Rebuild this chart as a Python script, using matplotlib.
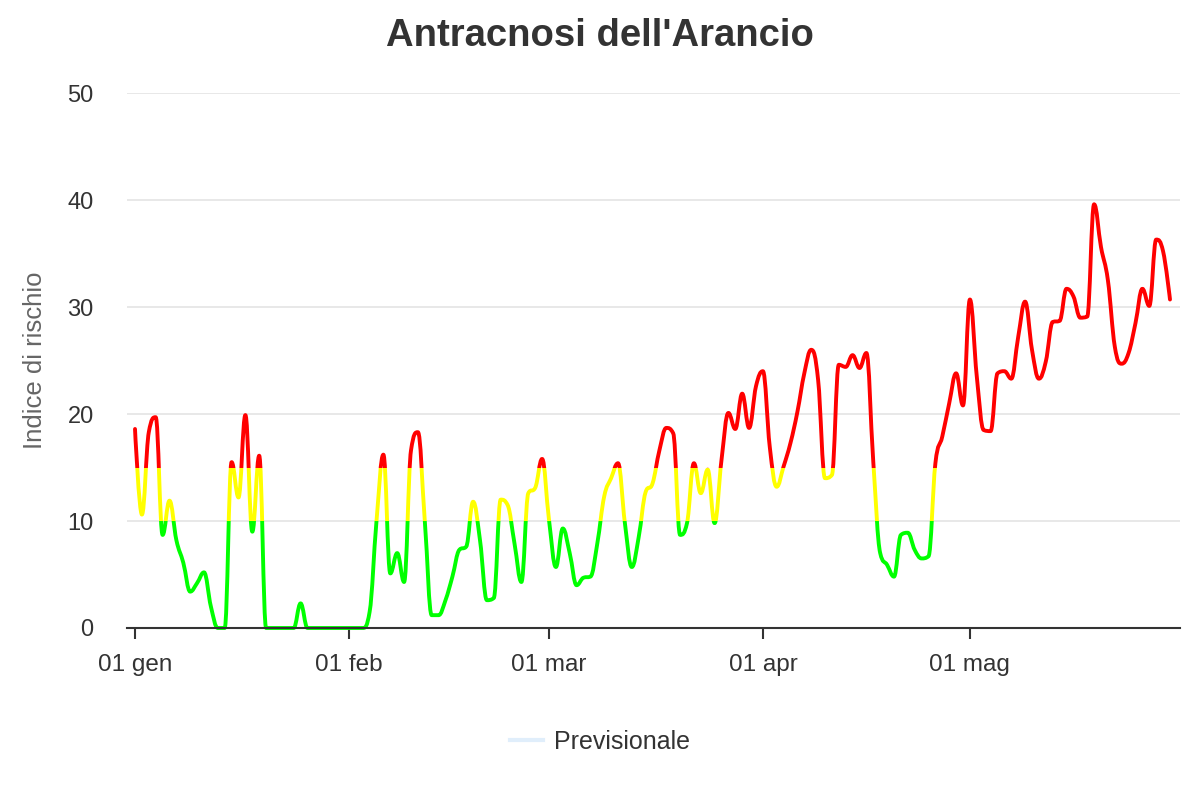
import numpy as np
import pandas as pd
import matplotlib
matplotlib.use("Agg")
import matplotlib.pyplot as plt
import matplotlib.dates as mdates
from matplotlib.path import Path
from matplotlib.patches import PathPatch, Rectangle
from matplotlib.lines import Line2D
from matplotlib.ticker import FuncFormatter

plt.rcParams['font.family'] = ['Liberation Sans', 'DejaVu Sans']

# dati: indice di rischio giornaliero, 01 gen - 30 mag 2024
giorni = pd.date_range("2024-01-01", periods=151, freq="D")
indice = [
    18.6, 10.6, 18.3, 19.7, 8.7, 11.9, 8.2, 6.1, 3.4, 4.2,
    5.2, 2.0, 0.0, 0.0, 15.5, 12.2, 19.9, 9.0, 16.1, 0.0,
    0.0, 0.0, 0.0, 0.0, 2.3, 0.0, 0.0, 0.0, 0.0, 0.0,
    0.0, 0.0, 0.0, 0.0, 1.5, 10.0, 16.2, 5.1, 7.0, 4.3,
    16.6, 18.3, 10.0, 1.2, 1.2, 2.6, 4.8, 7.3, 7.6, 11.8,
    8.2, 2.6, 2.8, 12.0, 11.5, 7.9, 4.3, 12.6, 13.1, 15.8,
    10.1, 5.7, 9.3, 7.0, 4.0, 4.7, 4.8, 7.9, 12.3, 14.0,
    15.4, 9.8, 5.7, 8.5, 12.7, 13.5, 16.6, 18.7, 18.2, 8.7,
    9.8, 15.4, 12.6, 14.8, 9.8, 15.7, 20.1, 18.6, 21.9, 18.7,
    22.6, 24.0, 16.9, 13.2, 15.1, 17.3, 20.2, 23.8, 26.0, 23.2,
    14.0, 14.3, 24.6, 24.4, 25.5, 24.3, 25.7, 15.5, 7.0, 5.9,
    4.8, 8.7, 8.9, 7.3, 6.5, 6.7, 15.4, 17.9, 21.0, 23.8,
    20.8, 30.7, 23.5, 18.5, 18.4, 23.8, 24.0, 23.3, 27.2, 30.5,
    26.0, 23.3, 24.9, 28.6, 28.7, 31.7, 31.0, 29.0, 29.1, 39.6,
    35.6, 32.5, 26.3, 24.7, 25.7, 28.5, 31.7, 30.1, 36.3, 35.2,
    30.7,
]
mesi = ["gen", "feb", "mar", "apr", "mag", "giu", "lug", "ago", "set", "ott", "nov", "dic"]

# zone di colore (soglie)
zone = [(-100, 10, "#00FF00"), (10, 15, "#FFFF00"), (15, 100, "#FF0000")]

x = mdates.date2num(giorni.to_pydatetime())
y = np.array(indice)


def spline_path(xs, ys, smoothing=1.5):
    # curva tipo "spline" di Highcharts
    n = len(xs)
    left = [None] * n
    right = [None] * n
    for i in range(n):
        if i == 0 or i == n - 1:
            left[i] = right[i] = (xs[i], ys[i])
            continue
        px, py = xs[i], ys[i]
        lx, ly = xs[i - 1], ys[i - 1]
        nx, ny = xs[i + 1], ys[i + 1]
        d = smoothing + 1
        lcx = (smoothing * px + lx) / d
        lcy = (smoothing * py + ly) / d
        rcx = (smoothing * px + nx) / d
        rcy = (smoothing * py + ny) / d
        corr = 0
        if rcx != lcx:
            corr = (rcy - lcy) * (rcx - px) / (rcx - lcx) + py - rcy
        lcy += corr
        rcy += corr
        if lcy > ly and lcy > py:
            lcy = max(ly, py)
            rcy = 2 * py - lcy
        elif lcy < ly and lcy < py:
            lcy = min(ly, py)
            rcy = 2 * py - lcy
        if rcy > ny and rcy > py:
            rcy = max(ny, py)
            lcy = 2 * py - rcy
        elif rcy < ny and rcy < py:
            rcy = min(ny, py)
            lcy = 2 * py - rcy
        left[i] = (lcx, lcy)
        right[i] = (rcx, rcy)
    verts = [(xs[0], ys[0])]
    codes = [Path.MOVETO]
    for i in range(1, n):
        verts += [right[i - 1], left[i], (xs[i], ys[i])]
        codes += [Path.CURVE4] * 3
    return Path(verts, codes)


fig = plt.figure(figsize=(12, 8), dpi=100)
ax = fig.add_axes([127 / 1200, 1 - 628 / 800, (1180 - 127) / 1200, (628 - 93) / 800])

x0 = mdates.date2num(pd.Timestamp("2024-01-01"))
ax.set_xlim(x0 - 1.16, x0 + 151.45)
ax.set_ylim(0, 50)

path = spline_path(x, y)
for lo, hi, col in zone:
    patch = PathPatch(path, fill=False, edgecolor=col, lw=2.8, zorder=3,
                      capstyle='round', joinstyle='round')
    ax.add_patch(patch)
    clip = Rectangle((x0 - 10, lo), 200, hi - lo, transform=ax.transData)
    patch.set_clip_path(clip)

# griglia e assi
ax.set_yticks([0, 10, 20, 30, 40, 50])
ax.yaxis.grid(True, color="#e6e6e6", lw=1.3)
ax.set_axisbelow(True)
for s in ["top", "right", "left"]:
    ax.spines[s].set_visible(False)
ax.spines["bottom"].set_color("#333333")
ax.spines["bottom"].set_linewidth(1.5)
ax.spines["bottom"].set_zorder(5)

ax.xaxis.set_major_locator(mdates.MonthLocator())
ax.xaxis.set_major_formatter(FuncFormatter(
    lambda v, pos: "01 " + mesi[mdates.num2date(v).month - 1]))
ax.tick_params(axis="x", length=8, width=1.5, color="#333333", pad=11,
               labelsize=17.5, labelcolor="#333333")
ax.tick_params(axis="y", length=0, pad=24, labelsize=17, labelcolor="#333333")

ax.set_ylabel("Indice di rischio", fontsize=18.5, color="#666666")
ax.yaxis.set_label_coords(-(127 - 47) / 1053, 0.5)

fig.text(0.5, 1 - 36 / 800, "Antracnosi dell'Arancio", ha="center", va="center",
         fontsize=27.5, fontweight="bold", color="#333333")

handle = Line2D([], [], color="#E0EEFB", lw=3)
fig.legend([handle], ["Previsionale"], loc="center", bbox_to_anchor=(600 / 1200, 1 - 742 / 800),
           frameon=False, fontsize=18, handlelength=1.3, handletextpad=0.45,
           labelcolor="#333333")

fig.savefig("out.png", dpi=100)
